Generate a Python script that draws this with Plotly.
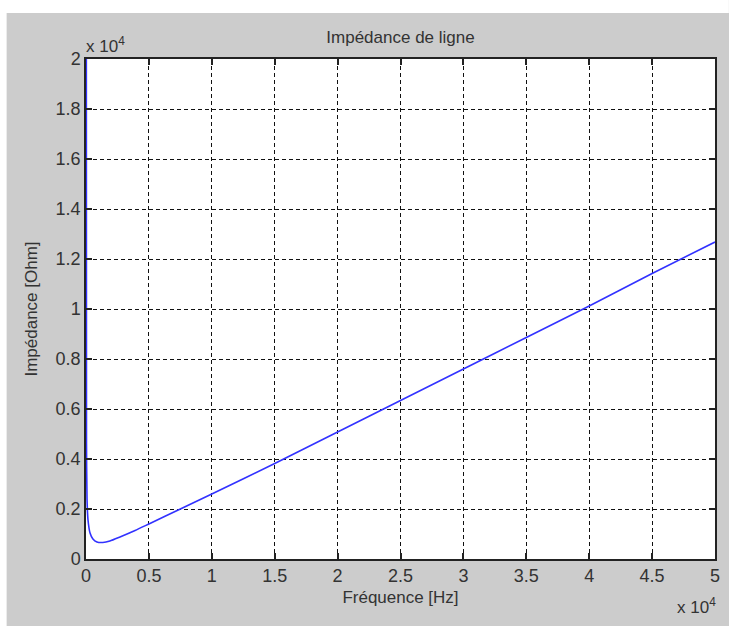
import plotly.graph_objects as go

# Data
freq_hz = [20, 40, 80, 160, 320, 550, 870, 1340, 1900, 2700, 3900, 5000,
           7500, 10000, 15000, 20000, 25000, 30000, 35000, 40000, 45000, 50000]
impedance_ohm = [30000, 4600, 2400, 1560, 1040, 800, 680, 660, 720, 880, 1140, 1400,
                 2000, 2600, 3820, 5080, 6340, 7600, 8860, 10120, 11420, 12680]

x_tick_vals = [0, 5000, 10000, 15000, 20000, 25000, 30000, 35000, 40000, 45000, 50000]
x_tick_text = ["0", "0.5", "1", "1.5", "2", "2.5", "3", "3.5", "4", "4.5", "5"]
y_tick_vals = [0, 2000, 4000, 6000, 8000, 10000, 12000, 14000, 16000, 18000, 20000]
y_tick_text = ["0", "0.2", "0.4", "0.6", "0.8", "1", "1.2", "1.4", "1.6", "1.8", "2"]

title_text = "Impédance de ligne"
x_title = "Fréquence [Hz]"
y_title = "Impédance [Ohm]"

W, H = 729, 626
L, R, T, B = 86, 9, 59, 67
PW = W - L - R
PH = H - T - B

def px_x(p):
    return (p - L) / PW

def px_y(p):
    return (T + PH - p) / PH

GRAY = "#cccccc"
FONT = "Liberation Sans, Arial, sans-serif"
TXT = "#333333"

fig = go.Figure()
fig.add_trace(go.Scatter(
    x=freq_hz, y=impedance_ohm, mode="lines",
    line=dict(color="rgb(50,50,255)", width=1.6, shape="spline", smoothing=0.6),
    showlegend=False, hoverinfo="x+y",
))

axis_common = dict(
    showline=True, linecolor="#222222", linewidth=1.5, mirror="ticks",
    ticks="inside", ticklen=6, tickcolor="#222222", tickwidth=1.5,
    showgrid=True, gridcolor="#111111", gridwidth=1, griddash="4px,3px",
    zeroline=False, tickfont=dict(family=FONT, size=18, color=TXT),
    fixedrange=True,
)

fig.update_layout(
    width=W, height=H,
    margin=dict(l=L, r=R, t=T, b=B, pad=0),
    paper_bgcolor=GRAY, plot_bgcolor="white",
    font=dict(family=FONT, size=17, color=TXT),
    title=dict(text=title_text, x=px_x(403), xanchor="center", xref="paper",
               y=1 - 37 / H, yanchor="middle",
               font=dict(family=FONT, size=17, color=TXT)),
    xaxis=dict(range=[0, 50000], tickmode="array", tickvals=x_tick_vals,
               ticktext=x_tick_text,
               title=dict(text=x_title, standoff=6,
                          font=dict(family=FONT, size=17, color=TXT)),
               **axis_common),
    yaxis=dict(range=[0, 20000], tickmode="array", tickvals=y_tick_vals,
               ticktext=y_tick_text,
               title=dict(text=y_title, standoff=14,
                          font=dict(family=FONT, size=17, color=TXT)),
               **axis_common),
    shapes=[
        dict(type="rect", xref="paper", yref="paper", x0=px_x(-5), x1=px_x(W + 5),
             y0=px_y(13), y1=px_y(-5), fillcolor="white", line=dict(width=0),
             layer="above"),
        dict(type="rect", xref="paper", yref="paper", x0=px_x(-5), x1=px_x(6),
             y0=px_y(H + 5), y1=px_y(-5), fillcolor="white", line=dict(width=0),
             layer="above"),
    ],
    annotations=[
        dict(text="x 10<sup>4</sup>", xref="paper", yref="paper",
             x=px_x(84), y=px_y(45), xanchor="left", yanchor="middle",
             showarrow=False, font=dict(family=FONT, size=17, color=TXT)),
        dict(text="x 10<sup>4</sup>", xref="paper", yref="paper",
             x=px_x(723), y=px_y(606), xanchor="right", yanchor="middle",
             showarrow=False, font=dict(family=FONT, size=17, color=TXT)),
    ],
)

fig.write_html("out.html")
